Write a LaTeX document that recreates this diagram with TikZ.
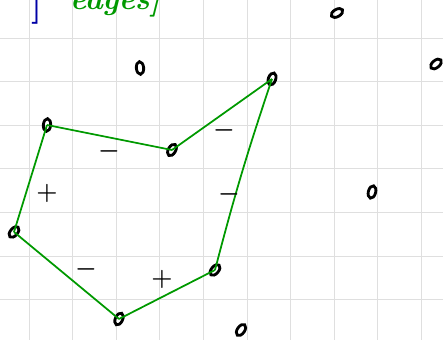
\documentclass[tikz,border=0pt]{standalone}
\usetikzlibrary{positioning, shapes.geometric}

\begin{document}
\begin{tikzpicture}[x=0.03cm, y=-0.03cm,
    vtx/.style={draw, ellipse, line width=2.4pt, inner sep=0pt,
      minimum width=0.38cm, minimum height=0.22cm, rotate=30},
    edge/.style={green!60!black, line width=1.5pt},
    sign/.style={font=\huge\boldmath, inner sep=0pt},
    gridline/.style={gray!25, line width=0.8pt}]

    % Parámetros de la cuadrícula
    \def\Xcero{29}      % primera línea vertical
    \def\Ycero{38}      % primera línea horizontal
    \def\Paso{43.6}     % separación de la cuadrícula

    \useasboundingbox (0,0) rectangle (443,340);
    \clip (0,0) rectangle (443,340);

    % --- 1. CUADRÍCULA ---
    \foreach \i in {0,...,9}
      \draw[gridline] (\Xcero+\i*\Paso, 0) -- ++(0, 340);
    \foreach \j in {0,...,6}
      \draw[gridline] (0, \Ycero+\j*\Paso) -- ++(443, 0);

    % --- 2. TEXTO CORTADO ARRIBA ---
    \node[blue!65!black, font=\fontsize{30}{30}\selectfont\bfseries, anchor=base] (corchete) at (37,16) {]};
    \node[green!60!black, font=\fontsize{26}{26}\selectfont\bfseries\itshape, anchor=base west] (titulo) at (66,10) {edges]};

    % --- 3. VÉRTICES DEL CICLO ---
    \node[vtx, rotate=55] (a) at (47,125) {};
    \node[vtx, rotate=30] (b) at (172,150) {};
    \node[vtx, rotate=40] (c) at (272,79) {};
    \node[vtx, rotate=20] (d) at (215,270) {};
    \node[vtx, rotate=35] (e) at (119,319) {};
    \node[vtx, rotate=20] (f) at (14,232) {};

    % Vértices sueltos
    \node[vtx, rotate=65] (g) at (140,68) {};
    \node[vtx] (h) at (337,13) {};
    \node[vtx, rotate=10] (i) at (436,64) {};
    \node[vtx, rotate=45] (j) at (372,192) {};
    \node[vtx, rotate=25] (k) at (241,330) {};

    % --- 4. ARISTAS ---
    \draw[edge] (a.center) -- (b.center);
    \draw[edge] (b.center) -- (c.center);
    \draw[edge] (c.center) to[bend right=2] (d.center);
    \draw[edge] (d.center) -- (e.center);
    \draw[edge] (e.center) -- (f.center);
    \draw[edge] (f.center) -- (a.center);

    % Signos de las aristas
    \node[sign] (sab) at (109,151) {$-$};
    \node[sign] (sbc) at (224,130) {$-$};
    \node[sign] (scd) at (229,194) {$-$};
    \node[sign] (sde) at (162,279) {$+$};
    \node[sign] (sef) at (86,269) {$-$};
    \node[sign] (sfa) at (47,193) {$+$};

\end{tikzpicture}
\end{document}
